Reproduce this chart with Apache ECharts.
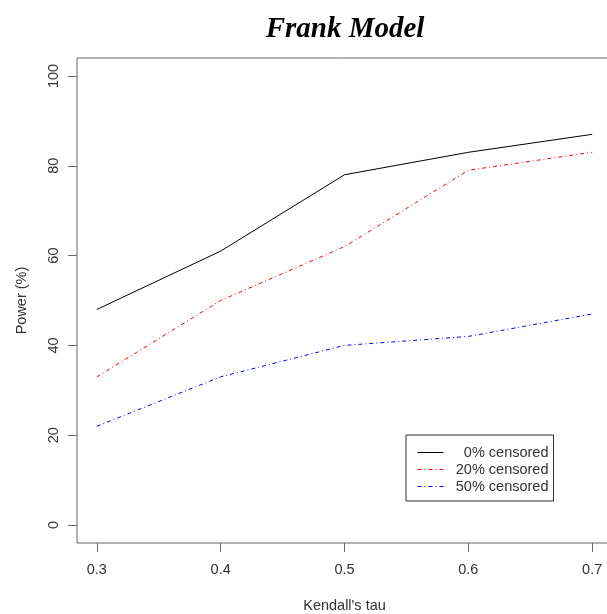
<!DOCTYPE html>
<html><head><meta charset="utf-8">
<script src="https://cdn.jsdelivr.net/npm/echarts@6/dist/echarts.min.js"></script>
<style>html,body{margin:0;padding:0;background:#fff;overflow:hidden}#c{width:607px;height:614px}</style>
</head><body><div id="c"></div>
<script>
const tau = [0.3, 0.4, 0.5, 0.6, 0.7];
const cens0 = [48, 61, 78, 83, 87];
const cens20 = [33, 50, 62, 79, 83];
const cens50 = [22, 33, 40, 42, 47];
const xTicks = [0.3, 0.4, 0.5, 0.6, 0.7];
const yTicks = [0, 20, 40, 60, 80, 100];
const names = ['0% censored', '20% censored', '50% censored'];
const colors = ['#000', '#ff0000', '#0000ff'];
const dashes = ['solid', [4, 3, 1, 3], [4, 3, 1, 3]];

const pair = (ys) => tau.map((t, i) => [t, ys[i]]);
const font = '"Liberation Sans", Arial, sans-serif';
const fs = 14.5;
const chart = echarts.init(document.getElementById('c'), null, {renderer: 'canvas'});
const mk = (i, data) => ({
  name: names[i], type: 'line', data: pair(data), symbol: 'none', animation: false,
  color: colors[i],
  lineStyle: {color: colors[i], width: 1, type: dashes[i]}, itemStyle: {color: colors[i]}
});
chart.setOption({
  animation: false,
  title: {
    text: 'Frank Model', left: 340, textAlign: 'center', top: 10,
    textStyle: {fontFamily: '"Liberation Serif", "Times New Roman", serif', fontStyle: 'italic', fontWeight: 'bold', fontSize: 29, color: '#000'}
  },
  grid: {left: 77, right: -5, top: 58, bottom: 71, show: true, borderColor: '#666', borderWidth: 1, backgroundColor: 'transparent', outerBoundsMode: 'none', containLabel: false},
  xAxis: {
    type: 'value', min: 0.284, max: 0.716,
    name: "Kendall's tau", nameLocation: 'middle', nameGap: 55,
    nameTextStyle: {fontFamily: font, fontSize: fs, color: '#333'},
    axisLine: {show: false, onZero: false}, splitLine: {show: false},
    axisTick: {show: true, inside: false, length: 9, customValues: xTicks, lineStyle: {color: '#666'}},
    axisLabel: {customValues: xTicks, margin: 19, fontFamily: font, fontSize: fs, color: '#333', formatter: v => v.toFixed(1)}
  },
  yAxis: {
    type: 'value', min: -4, max: 104,
    name: 'Power (%)', nameLocation: 'middle', nameGap: 48, nameRotate: 90,
    nameTextStyle: {fontFamily: font, fontSize: fs, color: '#333'},
    axisLine: {show: false, onZero: false}, splitLine: {show: false},
    axisTick: {show: true, length: 9, customValues: yTicks, lineStyle: {color: '#666'}},
    axisLabel: {customValues: yTicks, rotate: 90, margin: 16, fontFamily: font, fontSize: fs, color: '#333'}
  },
  legend: {
    orient: 'vertical', left: 406, top: 435, width: 147,
    data: names.map((n, i) => ({name: n, lineStyle: {color: colors[i], width: 1, type: dashes[i]}})),
    backgroundColor: '#fff', borderColor: '#333', borderWidth: 1,
    padding: [10, 5, 7, 11], itemGap: 2, itemWidth: 26, itemHeight: 15,
    itemStyle: {opacity: 0},
    formatter: n => '{a|' + n + '}',
    textStyle: {fontFamily: font, fontSize: fs, color: '#333', rich: {a: {width: 100, align: 'right', fontFamily: font, fontSize: fs, color: '#333'}}}
  },
  series: [mk(0, cens0), mk(1, cens20), mk(2, cens50)]
});
</script></body></html>
